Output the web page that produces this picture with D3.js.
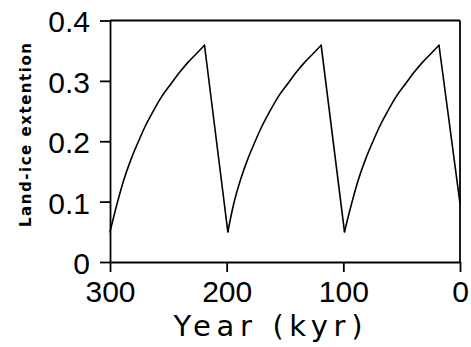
<!DOCTYPE html>
<html>
<head>
<meta charset="utf-8">
<script src="https://cdn.jsdelivr.net/npm/d3@7"></script>
<style>
  body { margin: 0; background: #fff; }
  svg text { fill: #000; }
  .axis text { font-family: "Liberation Sans", Arial, sans-serif; }
  .axis path, .axis line { stroke: #000; stroke-width: 1.8; }
</style>
</head>
<body>
<div id="chart"></div>
<script>
// land-ice extention, year in kyr before present
var years = [300, 294, 288, 282, 276, 270, 264, 256, 247, 240, 233, 226, 219,
             199, 194, 188, 182, 176, 170, 164, 156, 147, 140, 133, 126, 119,
              99,  93,  87,  81,  75,  69,  63,  55,  46,  39,  32,  25,  18, 0];
var ice = [0.05, 0.096, 0.137, 0.170, 0.198, 0.224, 0.246, 0.273, 0.297, 0.315, 0.331, 0.345, 0.359,
           0.05, 0.096, 0.137, 0.170, 0.198, 0.224, 0.246, 0.273, 0.297, 0.315, 0.331, 0.345, 0.359,
           0.05, 0.096, 0.137, 0.170, 0.198, 0.224, 0.246, 0.273, 0.297, 0.315, 0.331, 0.345, 0.359, 0.097];
var xTicks = [300, 200, 100, 0];
var yTicks = [0, 0.1, 0.2, 0.3, 0.4];

var width = 471, height = 347;
var margin = { top: 20.5, right: 11, bottom: 85, left: 110 };
var chartWidth = width - margin.left - margin.right;
var chartHeight = height - margin.top - margin.bottom;

var svg = d3.select("#chart")
  .append("svg")
  .attr("width", width)
  .attr("height", height);

var g = svg.append("g")
  .attr("transform", `translate(${margin.left}, ${margin.top})`);

// reversed x: 300 kyr on the left, present on the right
var xScale = d3.scaleLinear().domain([300, 0]).range([0, chartWidth]);
var yScale = d3.scaleLinear().domain([0, 0.4]).range([chartHeight, 0]);

var xAxis = d3.axisBottom(xScale).tickValues(xTicks).tickSize(10).tickSizeOuter(0).tickPadding(9)
  .tickFormat(d3.format("d"));
var yAxis = d3.axisLeft(yScale).tickValues(yTicks).tickSize(10).tickSizeOuter(0).tickPadding(10)
  .tickFormat(d => d === 0 ? "0" : d3.format(".1f")(d));

g.append("g")
  .attr("class", "x axis")
  .attr("transform", `translate(0, ${chartHeight})`)
  .call(xAxis)
  .selectAll("text")
  .attr("font-size", 30);

g.append("g")
  .attr("class", "y axis")
  .call(yAxis)
  .selectAll("text")
  .attr("font-size", 30)
  .attr("dy", "0.38em");

// top and right frame
g.append("line").attr("x1", 0).attr("x2", chartWidth).attr("y1", 0).attr("y2", 0)
  .attr("stroke", "#000").attr("stroke-width", 1.8);
g.append("line").attr("x1", chartWidth).attr("x2", chartWidth).attr("y1", 0).attr("y2", chartHeight)
  .attr("stroke", "#000").attr("stroke-width", 1.8);

var data = years.map((y, i) => ({ year: y, value: ice[i] }));

// split into rising (smooth) and falling (straight) pieces so the corners stay sharp
var rises = [], falls = [];
var cur = [data[0]];
for (var i = 1; i < data.length; i++) {
  if (data[i].value >= data[i - 1].value) {
    cur.push(data[i]);
  } else {
    rises.push(cur);
    falls.push([data[i - 1], data[i]]);
    cur = [data[i]];
  }
}
if (cur.length > 1) rises.push(cur);

var smooth = d3.line().curve(d3.curveMonotoneX).x(d => xScale(d.year)).y(d => yScale(d.value));
var straight = d3.line().x(d => xScale(d.year)).y(d => yScale(d.value));

var curve = g.append("g")
  .attr("fill", "none")
  .attr("stroke", "#000")
  .attr("stroke-width", 1.6)
  .attr("stroke-linecap", "round");

curve.selectAll(".rise").data(rises).enter().append("path")
  .attr("class", "rise").attr("d", smooth);
curve.selectAll(".fall").data(falls).enter().append("path")
  .attr("class", "fall").attr("d", straight);

// axis titles
svg.append("text")
  .attr("x", 268)
  .attr("y", 336)
  .attr("text-anchor", "middle")
  .style("font-family", "'DejaVu Sans'")
  .style("font-size", "29px")
  .attr("textLength", 189)
  .attr("lengthAdjust", "spacing")
  .text("Year (kyr)");

svg.append("text")
  .attr("transform", "translate(31, 135) rotate(-90)")
  .attr("text-anchor", "middle")
  .style("font-family", "'DejaVu Sans'")
  .style("font-size", "15px")
  .style("font-weight", "bold")
  .attr("textLength", 184)
  .attr("lengthAdjust", "spacing")
  .text("Land-ice extention");
</script>
</body>
</html>
